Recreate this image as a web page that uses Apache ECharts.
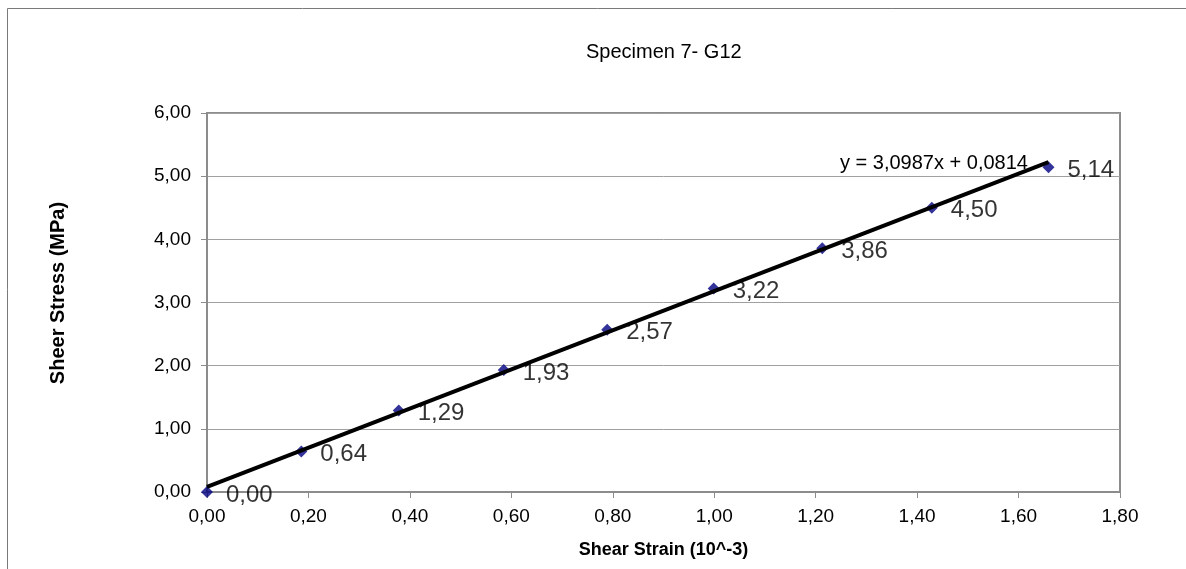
<!DOCTYPE html>
<html>
<head>
<meta charset="utf-8">
<script src="https://cdn.jsdelivr.net/npm/echarts@6/dist/echarts.min.js"></script>
<style>
html,body{margin:0;padding:0;background:#fff;}
#c{width:1186px;height:569px;}
</style>
</head>
<body>
<div id="c"></div>
<script>
var titleText = 'Specimen 7- G12';
var xName = 'Shear Strain (10^-3)';
var yName = 'Sheer Stress (MPa)';
var strain = [0.00, 0.186, 0.378, 0.585, 0.789, 0.999, 1.213, 1.429, 1.659];
var stress = [0.00, 0.64, 1.29, 1.93, 2.57, 3.22, 3.86, 4.50, 5.14];
var trendSlope = 3.0987;
var trendIntercept = 0.0814;
var equationText = 'y = 3,0987x + 0,0814';

function fmt(v){ return v.toFixed(2).replace('.', ','); }

var points = strain.map(function(x, i){ return [x, stress[i]]; });
var xStart = strain[0], xEnd = strain[strain.length - 1];
var trend = [[xStart, trendSlope * xStart + trendIntercept], [xEnd, trendSlope * xEnd + trendIntercept]];

var chart = echarts.init(document.getElementById('c'), null, {renderer: 'canvas'});
var font = 'Liberation Sans, Arial, sans-serif';
chart.setOption({
  animation: false,
  backgroundColor: '#ffffff',
  textStyle: {fontFamily: font},
  title: {
    text: titleText, left: 581, top: 37,
    textStyle: {fontFamily: font, fontSize: 20, fontWeight: 'normal', color: '#000'}
  },
  grid: {
    left: 207, right: 66, top: 113, bottom: 77,
    show: true, borderColor: '#8c8c8c', borderWidth: 2, backgroundColor: 'transparent'
  },
  graphic: [
    {type: 'rect', silent: true, z: -10,
     shape: {x: 7.5, y: 8.5, width: 1400, height: 800},
     style: {fill: 'none', stroke: '#7a7a7a', lineWidth: 1}},
    {type: 'text', x: 840, y: 163, z: 100,
     style: {text: equationText, font: '20px ' + font, fill: '#000', textVerticalAlign: 'middle'}},
    {type: 'text', x: 58, y: 293, rotation: Math.PI / 2, z: 100,
     style: {text: yName, font: 'bold 20px ' + font, fill: '#000', textAlign: 'center', textVerticalAlign: 'middle'}}
  ],
  xAxis: {
    type: 'value', min: 0, max: 1.8, interval: 0.2,
    name: xName, nameLocation: 'middle', nameGap: 49,
    nameTextStyle: {fontFamily: font, fontSize: 18, fontWeight: 'bold', color: '#000'},
    axisLine: {show: true, lineStyle: {color: '#8c8c8c', width: 2}},
    axisTick: {show: true, inside: false, length: 6, lineStyle: {color: '#8c8c8c', width: 1}},
    axisLabel: {formatter: fmt, fontSize: 19, color: '#000', margin: 15, fontFamily: font},
    splitLine: {show: false}
  },
  yAxis: {
    type: 'value', min: 0, max: 6, interval: 1,
    axisLine: {show: true, lineStyle: {color: '#8c8c8c', width: 2}},
    axisTick: {show: true, inside: false, length: 6, lineStyle: {color: '#8c8c8c', width: 1}},
    axisLabel: {formatter: fmt, fontSize: 19, color: '#000', margin: 16, fontFamily: font},
    splitLine: {show: true, lineStyle: {color: '#a0a0a0', width: 1}}
  },
  series: [
    {
      type: 'scatter', data: points, symbol: 'diamond', symbolSize: 12, z: 2,
      itemStyle: {color: '#000080'},
      label: {
        show: true, position: 'right', distance: 13, offset: [0, 3],
        formatter: function(p){ return fmt(p.value[1]); },
        fontSize: 24, color: '#000', fontFamily: font
      }
    },
    {
      type: 'line', data: trend, symbol: 'none', z: 3, silent: true,
      lineStyle: {color: '#000', width: 4}
    }
  ]
});
</script>
</body>
</html>
